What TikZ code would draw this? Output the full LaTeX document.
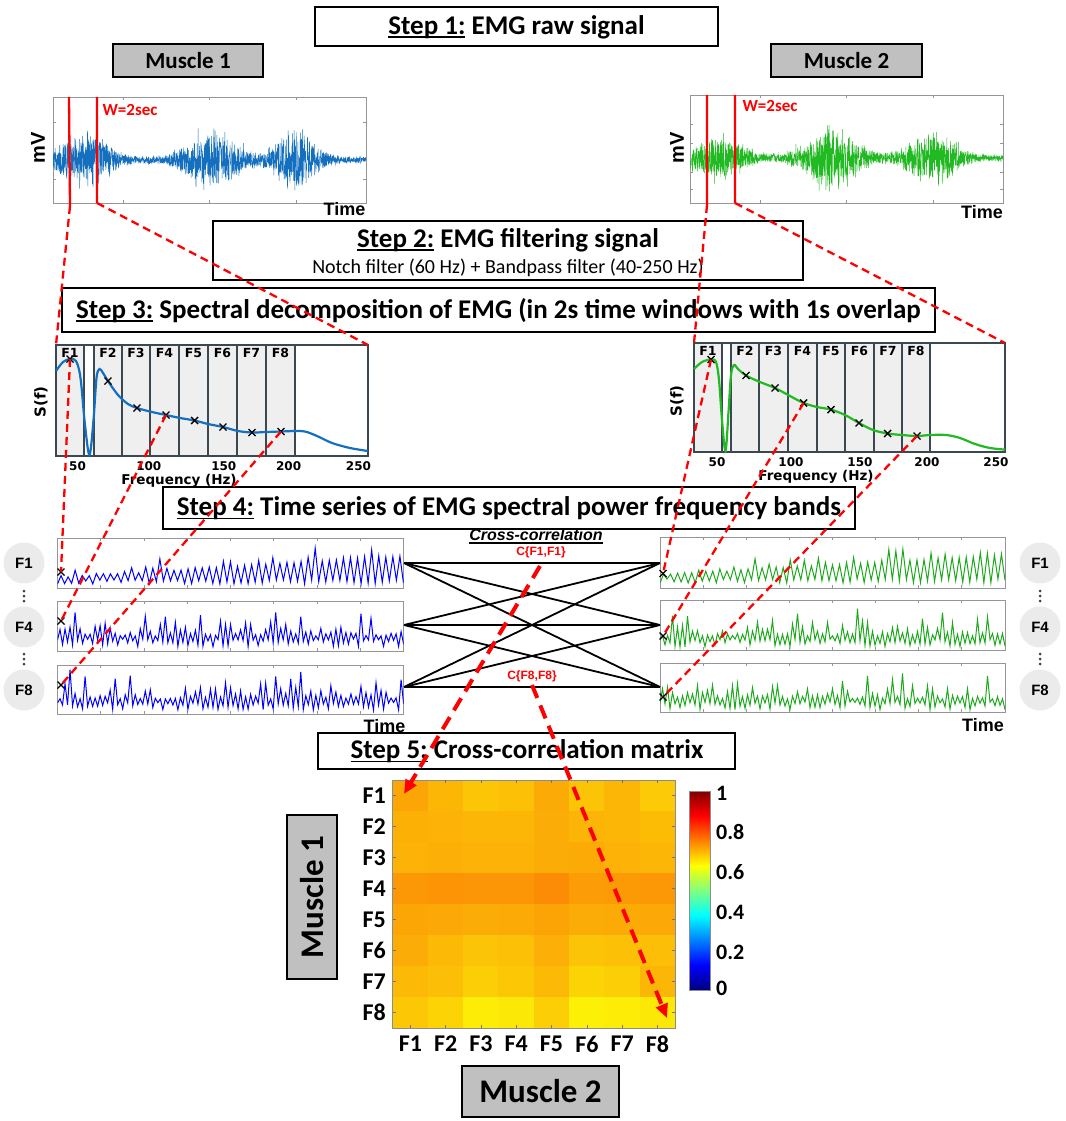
\documentclass[tikz,border=0pt]{standalone}
\usepackage{fontspec}
\setmainfont{Carlito}
\newfontfamily\ars{Liberation Sans}
\newfontfamily\dvs{DejaVu Sans}
\usetikzlibrary{arrows.meta}
\definecolor{emgblue}{RGB}{20,112,190}
\definecolor{emggreen}{RGB}{34,186,34}
\definecolor{tsblue}{RGB}{0,0,255}
\definecolor{tsgreen}{RGB}{28,170,28}
\definecolor{mgray}{RGB}{192,192,192}
\definecolor{cgray}{RGB}{235,235,235}
\definecolor{fgray}{RGB}{150,150,150}
\definecolor{bandedge}{RGB}{58,72,82}
\definecolor{bandfill}{RGB}{239,239,239}
\definecolor{jA}{rgb}{0,0,0.5}
\definecolor{jB}{rgb}{0,0,1}
\definecolor{jC}{rgb}{0,1,1}
\definecolor{jD}{rgb}{1,1,0}
\definecolor{jE}{rgb}{1,0,0}
\definecolor{jF}{rgb}{0.5,0,0}
\pgfdeclareverticalshading{jetsh}{100bp}{color(0bp)=(jA); color(25bp)=(jA); color(31.25bp)=(jB); color(43.75bp)=(jC); color(56.25bp)=(jD); color(68.75bp)=(jE); color(75bp)=(jF); color(100bp)=(jF)}
\newcommand{\ulx}[1]{\setbox0\hbox{#1}\rlap{\raisebox{-3.5pt}{\rule{\wd0}{1.8pt}}}\box0\relax}
\begin{document}
\begin{tikzpicture}[x=1pt,y=-1pt,
  stepbox/.style={draw=black, line width=2pt, fill=white, inner sep=0pt},
  muscbox/.style={draw=black, line width=2.2pt, fill=mgray, inner sep=0pt},
  steptxt/.style={font=\fontsize{27}{30}\selectfont\bfseries, inner sep=0pt},
  frame/.style={draw=fgray, line width=0.8pt},
  band/.style={draw=bandedge, fill=bandfill, line width=1.1pt},
  xmark/.style={black, line width=1.3pt},
  thinred/.style={red, line width=2.3pt, dash pattern=on 8pt off 5pt},
  bigred/.style={red, line width=4pt, dash pattern=on 14pt off 8pt, -{Triangle[length=14pt,width=12pt]}},
  corr/.style={black, line width=1.8pt},
  axlab/.style={font=\ars\fontsize{18}{20}\selectfont\bfseries, inner sep=0pt},
  speclab/.style={font=\dvs\fontsize{12.5}{14}\selectfont\bfseries, inner sep=0pt},
  ticklab/.style={font=\dvs\fontsize{12}{13}\selectfont\bfseries, inner sep=0pt},
  freqlab/.style={font=\dvs\fontsize{13.5}{15}\selectfont\bfseries, inner sep=0pt},
  circ/.style={circle, fill=cgray, minimum size=41pt, inner sep=0pt, font=\ars\fontsize{15}{17}\selectfont\bfseries},
  wlab/.style={red, font=\fontsize{17}{19}\selectfont\bfseries, inner sep=0pt},
  ctxt/.style={red, font=\ars\fontsize{12}{14}\selectfont\bfseries, inner sep=0pt},
  mlab/.style={font=\fontsize{24}{26}\selectfont\bfseries, inner sep=0pt},
  cblab/.style={font=\fontsize{22}{24}\selectfont\bfseries, inner sep=0pt, anchor=west},
]
\useasboundingbox (0,0) rectangle (1065,1121);
\pgfmathsetseed{12}

% ---------------- Step 1 ----------------
\node[stepbox, minimum width=403pt, minimum height=39pt] (s1) at (516.5,26.5) {};
\node[steptxt] (s1t) at (516.5,27) {\ulx{Step 1:} EMG raw signal};
\node[muscbox, minimum width=150pt, minimum height=33pt, font=\fontsize{23}{25}\selectfont\bfseries] (m1) at (188,60.5) {Muscle 1};
\node[muscbox, minimum width=151pt, minimum height=33pt, font=\fontsize{23}{25}\selectfont\bfseries] (m2) at (846.5,60.5) {Muscle 2};

% EMG plot 1
\draw[frame] (53,97) rectangle (366,203);
\foreach \tx in {123,209,296} {\draw[fgray,line width=0.6pt] (\tx,203) -- (\tx,200) (\tx,97) -- (\tx,100);}
\foreach \ty in {122,179} {\draw[fgray,line width=0.6pt] (53,\ty) -- (56,\ty) (366,\ty) -- (363,\ty);}
\begin{scope}
\clip (53,97) rectangle (366,203);
\draw[emgblue, line width=0.45pt] plot[domain=53:366, samples=1500, variable=\t] (\t, {160 + rand*(4 + 36*exp(-((\t-85)/28)*((\t-85)/28)) + 42*exp(-((\t-212)/30)*((\t-212)/30)) + 39*exp(-((\t-296)/24)*((\t-296)/24)))*(0.5+0.5*rnd*rnd)});
\end{scope}
\node[axlab, rotate=90, font=\ars\fontsize{20}{22}\selectfont\bfseries] (mv1) at (38,148) {mV};
\node[axlab] (time1) at (344.5,209) {Time};
\node[wlab] (w1) at (130,110) {W=2sec};

% EMG plot 2
\draw[frame] (690,95) rectangle (1003,203);
\foreach \tx in {760,846,933} {\draw[fgray,line width=0.6pt] (\tx,203) -- (\tx,200) (\tx,95) -- (\tx,98);}
\foreach \ty in {124,143,172,189} {\draw[fgray,line width=0.6pt] (690,\ty) -- (693,\ty) (1003,\ty) -- (1000,\ty);}
\begin{scope}
\clip (690,95) rectangle (1003,203);
\draw[emggreen, line width=0.45pt] plot[domain=690:1003, samples=1500, variable=\t] (\t, {158 + rand*(4 + 30*exp(-((\t-718)/28)*((\t-718)/28)) + 40*exp(-((\t-832)/32)*((\t-832)/32)) + 36*exp(-((\t-932)/27)*((\t-932)/27)))*(0.5+0.5*rnd*rnd)});
\end{scope}
\node[axlab, rotate=90, font=\ars\fontsize{20}{22}\selectfont\bfseries] (mv2) at (677,148) {mV};
\node[axlab, anchor=east] (time2) at (1003,212) {Time};
\node[wlab] (w2) at (770,106) {W=2sec};

% window lines (solid parts)
\coordinate (wa1) at (69,97);   \coordinate (wa2) at (70,206);
\coordinate (wb1) at (97,97);   \coordinate (wb2) at (97,203);
\coordinate (wc1) at (707,95);  \coordinate (wc2) at (707,205);
\coordinate (wd1) at (735,95);  \coordinate (wd2) at (735,203);
\draw[red, line width=2.3pt] (wa1) -- (wa2) (wb1) -- (wb2) (wc1) -- (wc2) (wd1) -- (wd2);

% ---------------- Step 2 ----------------
\node[stepbox, minimum width=590pt, minimum height=59pt] (s2) at (508,250.5) {};
\node[steptxt] (s2t) at (508,240) {\ulx{Step 2:} EMG filtering signal};
\node[inner sep=0pt, font=\fontsize{20}{22}\selectfont] (s2s) at (508,267.5) {Notch filter (60 Hz) + Bandpass filter (40-250 Hz)};

% ---------------- Step 3 ----------------
\node[stepbox, line width=2.6pt, minimum width=873pt, minimum height=44pt] (s3) at (498.5,310) {};
\node[steptxt] (s3t) at (498.5,310.5) {\ulx{Step 3:} Spectral decomposition of EMG (in 2s time windows with 1s overlap};

% Spectral plot left
\draw[bandedge, line width=1.2pt, fill=white] (56,345) rectangle (368,456);
\foreach \a/\b/\n in {56/84/F1, 94/122/F2, 122/150/F3, 150/179/F4, 179/208/F5, 208/237/F6, 237/266/F7, 266/295/F8} {
  \draw[band] (\a,345) rectangle (\b,456);
  \node[speclab] at ({(\a+\b)/2},353) {\n};
}
\draw[emgblue, line width=2.2pt] plot[smooth, tension=0.55] coordinates {(56,371) (63,362) (70,359) (76,361) (80.5,378) (85,425) (89.5,455) (93.5,420) (96.5,378) (99.5,369) (103,373) (108,381) (118,395) (128,404) (137,408) (152,412) (166,415) (180,418) (194.6,420.5) (208,424) (223,427) (238,431) (252,432.5) (266,432) (281,431.5) (295,431) (305,431.5) (317,436) (332,443) (350,448) (368,451)};
\foreach \nm/\px/\py in {sL1/70/359, sL2/108/381, sL3/137/408, sL4/166/415, sL5/194.6/420.5, sL6/223/427, sL7/252/432.5, sL8/281/431.5} {
  \coordinate (\nm) at (\px,\py);
  \draw[xmark] (\nm) +(-3.5,-3.5) -- +(3.5,3.5) +(-3.5,3.5) -- +(3.5,-3.5);
}
\foreach \tx/\tl in {77.5/50, 148.8/100, 223.8/150, 288.6/200, 358.5/250} {\node[ticklab] at (\tx,466) {\tl};}
\node[freqlab] (fqL) at (179,481) {Frequency (Hz)};
\node[speclab, rotate=90, font=\dvs\fontsize{15}{16}\selectfont\bfseries] (sfL) at (41,402) {S(f)};

% Spectral plot right
\draw[bandedge, line width=1.2pt, fill=white] (694,343) rectangle (1005,452);
\foreach \a/\b/\n in {694/722/F1, 731/759/F2, 759/788/F3, 788/817/F4, 817/845/F5, 845/874/F6, 874/902/F7, 902/930/F8} {
  \draw[band] (\a,343) rectangle (\b,452);
  \node[speclab] at ({(\a+\b)/2},351) {\n};
}
\draw[emggreen, line width=2.2pt] plot[smooth, tension=0.55] coordinates {(694,369) (702,362) (711,359.5) (716,362) (719,380) (722,420) (725.5,451) (728.5,412) (731,375) (734,365) (738,369) (746,375.5) (760,382) (775,388) (790,396) (803.6,403) (817,407) (831,409.6) (845,415) (859,423) (873,430) (887.6,433.5) (902,435) (917,436) (930,435) (946,435) (960,438) (975,444) (990,448) (1005,449.6)};
\foreach \nm/\px/\py in {sR1/711/359.5, sR2/746/375.5, sR3/775/388, sR4/803.6/403, sR5/831/409.6, sR6/859/423, sR7/887.6/433.5, sR8/917/436} {
  \coordinate (\nm) at (\px,\py);
  \draw[xmark] (\nm) +(-3.5,-3.5) -- +(3.5,3.5) +(-3.5,3.5) -- +(3.5,-3.5);
}
\foreach \tx/\tl in {717/50, 791/100, 860/150, 927/200, 996/250} {\node[ticklab] at (\tx,462) {\tl};}
\node[freqlab] (fqR) at (816,477) {Frequency (Hz)};
\node[speclab, rotate=90, font=\dvs\fontsize{15}{16}\selectfont\bfseries] (sfR) at (677,401) {S(f)};

% ---------------- Step 4 ----------------
\node[stepbox, minimum width=692pt, minimum height=42pt] (s4) at (509,508) {};
\node[steptxt] (s4t) at (509,508.5) {\ulx{Step 4:} Time series of EMG spectral power frequency bands};

% time series frames
\foreach \ya/\yb in {538/588, 601/651, 665/714} {
  \draw[frame] (57.5,\ya) rectangle (403.5,\yb);
  \foreach \k in {1,...,7} {\draw[fgray,line width=0.6pt] ({57.5+\k*43.25},\ya) -- ++(0,3) ({57.5+\k*43.25},\yb) -- ++(0,-3);}
}
\foreach \ya/\yb in {537/588, 600/650, 663/712} {
  \draw[frame] (660,\ya) rectangle (1005,\yb);
  \foreach \k in {1,...,7} {\draw[fgray,line width=0.6pt] ({660+\k*43.1},\ya) -- ++(0,3) ({660+\k*43.1},\yb) -- ++(0,-3);}
}
\begin{scope}
\clip (57.5,538) rectangle (403.5,588);
\draw[tsblue, line width=1pt] (57.5,584) \foreach \i in {1,...,98} { -- ({57.5+\i*3.53}, {584 - mod(\i,2)*(6 + 22*\i/98 + 20*rnd*rnd*rnd) - (1-mod(\i,2))*4*rnd}) };
\end{scope}
\begin{scope}
\clip (57.5,601) rectangle (403.5,651);
\draw[tsblue, line width=1pt] (57.5,640) \foreach \i in {1,...,138} { -- ({57.5+\i*2.508}, {641 - mod(\i,2)*(5 + 31*rnd*rnd) + (1-mod(\i,2))*(8*rnd-2)}) };
\end{scope}
\begin{scope}
\clip (57.5,665) rectangle (403.5,714);
\draw[tsblue, line width=1pt] (57.5,703) \foreach \i in {1,...,138} { -- ({57.5+\i*2.508}, {704 - mod(\i,2)*(5 + 31*rnd*rnd) + (1-mod(\i,2))*(8*rnd-2)}) };
\end{scope}
\begin{scope}
\clip (660,537) rectangle (1005,588);
\draw[tsgreen, line width=1pt] (660,583) \foreach \i in {1,...,98} { -- ({660+\i*3.52}, {583 - mod(\i,2)*(8 + 20*\i/98 + 22*rnd*rnd*rnd) - (1-mod(\i,2))*4*rnd}) };
\end{scope}
\begin{scope}
\clip (660,600) rectangle (1005,650);
\draw[tsgreen, line width=1pt] (660,640) \foreach \i in {1,...,138} { -- ({660+\i*2.5}, {641 - mod(\i,2)*(5 + 32*rnd*rnd) + (1-mod(\i,2))*(8*rnd-2)}) };
\end{scope}
\begin{scope}
\clip (660,663) rectangle (1005,712);
\draw[tsgreen, line width=1pt] (660,703) \foreach \i in {1,...,138} { -- ({660+\i*2.5}, {704 - mod(\i,2)*(5 + 32*rnd*rnd) + (1-mod(\i,2))*(8*rnd-2)}) };
\end{scope}

\node[axlab] (time3) at (384.5,726) {Time};
\node[axlab, anchor=east] (time4) at (1004,725) {Time};

% band circles
\node[circ] (cl1) at (24,563) {F1};
\node[circ] (cl4) at (24,627) {F4};
\node[circ] (cl8) at (24,690) {F8};
\node[circ] (cr1) at (1040,563) {F1};
\node[circ] (cr4) at (1040,627) {F4};
\node[circ] (cr8) at (1040,690) {F8};
\foreach \dx in {24,1040} {\foreach \dy in {596,659} {\foreach \o in {-5,0,5} {\fill[black!75] (\dx,\dy+\o) circle (1.5);}}}

% cross-correlation
\node[inner sep=0pt, font=\ars\fontsize{16}{18}\selectfont\bfseries\itshape] (cc) at (536,536) {\ulx{Cross-correlation}};
\node[ctxt] (c11) at (541,552) {C\{F1,F1\}};
\node[ctxt] (c88) at (532,676) {C\{F8,F8\}};
\coordinate (L1) at (404,563); \coordinate (L4) at (404,625); \coordinate (L8) at (404,687);
\coordinate (R1) at (660,563); \coordinate (R4) at (660,625); \coordinate (R8) at (660,687);
\foreach \l in {L1,L4,L8} {\foreach \r in {R1,R4,R8} {\draw[corr] (\l) -- (\r);}}

% time-series markers
\foreach \nm/\px/\py in {tL1/61/572, tL4/61/621, tL8/61/685, tR1/663/573.5, tR4/663/636, tR8/663/697} {
  \coordinate (\nm) at (\px,\py);
  \draw[xmark] (\nm) +(-3.5,-3.5) -- +(3.5,3.5) +(-3.5,3.5) -- +(3.5,-3.5);
}

% ---------------- Step 5 ----------------
\node[stepbox, minimum width=417pt, minimum height=36pt] (s5) at (526.5,751) {};
\node[steptxt] (s5t) at (527,751.5) {\ulx{Step 5:} Cross-correlation matrix};

\foreach \r/\row in {1/{165,182,198,192,170,196,182,202}, 2/{176,178,182,182,172,180,182,188}, 3/{178,175,178,178,172,170,178,182}, 4/{152,148,150,150,140,156,154,152}, 5/{166,168,172,170,164,172,170,168}, 6/{172,186,196,192,175,196,192,190}, 7/{186,190,206,200,186,212,206,182}, 8/{200,212,236,232,206,240,236,232}} {
  \foreach \g [count=\c] in \row {
    \definecolor{cellc}{RGB}{252,\g,6}
    \fill[cellc, draw=cellc, line width=0.3pt] ({392.7+(\c-1)*35.3},{780+(\r-1)*31}) rectangle ++(35.3,31);
  }
}
\draw[black!45, line width=0.8pt] (392.7,780) rectangle (675,1028);
\foreach \k in {1,...,8} {
  \draw[black!55, line width=0.6pt] ({410.35+(\k-1)*35.3},780) -- ++(0,3) ({410.35+(\k-1)*35.3},1028) -- ++(0,-3);
  \draw[black!55, line width=0.6pt] (392.7,{795.5+(\k-1)*31}) -- ++(3,0) (675,{795.5+(\k-1)*31}) -- ++(-3,0);
  \node[mlab, anchor=east] (rl\k) at (386,{795.5+(\k-1)*31}) {F\k};
  \node[mlab] (cl\k) at ({410.35+(\k-1)*35.3},1044) {F\k};
}
% colorbar
\shade[shading=jetsh] (689,791) rectangle (710,990);
\draw[black!45, line width=0.6pt] (689,791) rectangle (710,990);
\node[cblab] (cb1) at (716,793) {1};
\node[cblab] (cb08) at (716,832) {0.8};
\node[cblab] (cb06) at (716,872) {0.6};
\node[cblab] (cb04) at (716,912) {0.4};
\node[cblab] (cb02) at (716,952) {0.2};
\node[cblab] (cb0) at (716,988) {0};

\node[muscbox, rotate=90, minimum width=164pt, minimum height=50pt, font=\fontsize{33}{36}\selectfont\bfseries] (m1v) at (312,897) {Muscle 1};
\node[muscbox, minimum width=157pt, minimum height=51pt, font=\fontsize{33}{36}\selectfont\bfseries] (m2h) at (540.5,1091.5) {Muscle 2};

% ---------------- red dashed connectors ----------------
\coordinate (cL1) at (56,345);  \coordinate (cL2) at (368,345);
\coordinate (cR1) at (694,343); \coordinate (cR2) at (1005,343);
\draw[thinred] (wa2) -- (cL1);
\draw[thinred] (wb2) -- (cL2);
\draw[thinred] (wc2) -- (cR1);
\draw[thinred] (wd2) -- (cR2);
\draw[thinred] (sL1) -- (tL1);
\draw[thinred] (sL4) -- (tL4);
\draw[thinred] (sL8) -- (tL8);
\draw[thinred] (sR1) -- (tR1);
\draw[thinred] (sR4) -- (tR4);
\draw[thinred] (sR8) -- (tR8);

\coordinate (a1s) at (540,566); \coordinate (a1e) at (404,794);
\coordinate (a8s) at (532,685); \coordinate (a8e) at (667,1018);
\draw[bigred] (a1s) -- (a1e);
\draw[bigred] (a8s) -- (a8e);
\end{tikzpicture}
\end{document}
